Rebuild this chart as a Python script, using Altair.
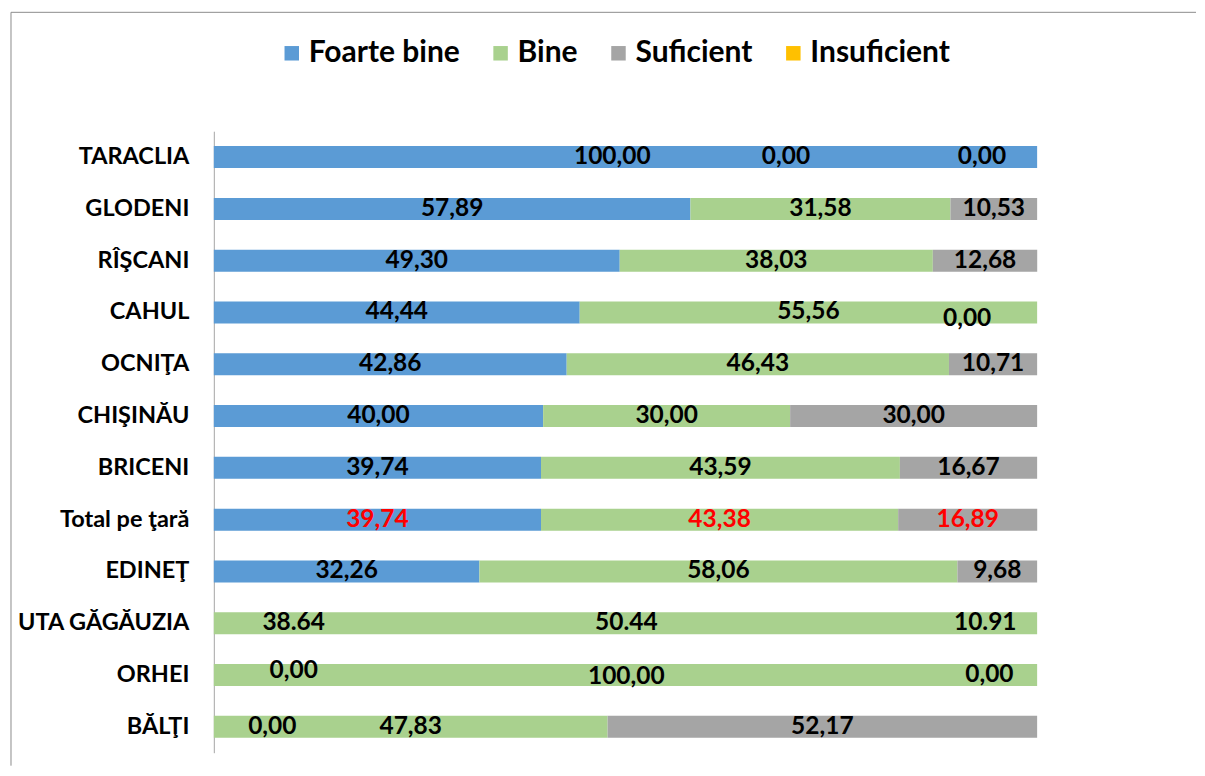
import altair as alt
import pandas as pd

categories = ["TARACLIA", "GLODENI", "RÎŞCANI", "CAHUL", "OCNIŢA", "CHIŞINĂU",
              "BRICENI", "Total pe ţară", "EDINEŢ", "UTA GĂGĂUZIA", "ORHEI", "BĂLŢI"]
series = ["Foarte bine", "Bine", "Suficient", "Insuficient"]
colors = ["#5B9BD5", "#A9D18E", "#A5A5A5", "#FFC000"]

# drawn segment values (percent)
foarte_bine = [100.00, 57.89, 49.30, 44.44, 42.86, 40.00, 39.74, 39.74, 32.26, 0.00, 0.00, 0.00]
bine = [0.00, 31.58, 38.03, 55.56, 46.43, 30.00, 43.59, 43.38, 58.06, 100.00, 100.00, 47.83]
suficient = [0.00, 10.53, 12.68, 0.00, 10.71, 30.00, 16.67, 16.89, 9.68, 0.00, 0.00, 52.17]
insuficient = [0.00, 0.00, 0.00, 0.00, 0.00, 0.00, 0.00, 0.00, 0.00, 0.00, 0.00, 0.00]

# data label texts as printed on the chart
label_fb = ["100,00", "57,89", "49,30", "44,44", "42,86", "40,00", "39,74", "39,74", "32,26", "38.64", "0,00", "0,00"]
label_bine = ["0,00", "31,58", "38,03", "55,56", "46,43", "30,00", "43,59", "43,38", "58,06", "50.44", "100,00", "47,83"]
label_suf = ["0,00", "10,53", "12,68", "0,00", "10,71", "30,00", "16,67", "16,89", "9,68", "10.91", "0,00", "52,17"]
red_rows = ["Total pe ţară"]

# labels that were moved away from the segment centre (position in percent)
label_pos_override = {
    ("TARACLIA", 0): 48.4, ("TARACLIA", 1): 69.5, ("TARACLIA", 2): 93.3,
    ("CAHUL", 2): 91.5,
    ("UTA GĂGĂUZIA", 0): 9.7, ("UTA GĂGĂUZIA", 1): 50.1, ("UTA GĂGĂUZIA", 2): 93.7,
    ("ORHEI", 0): 9.7, ("ORHEI", 1): 50.1, ("ORHEI", 2): 94.2,
    ("BĂLŢI", 0): 7.1,
}
label_dy = {("CAHUL", 2): 7, ("ORHEI", 0): -4, ("ORHEI", 1): 2}

value_lists = [foarte_bine, bine, suficient, insuficient]
label_lists = [label_fb, label_bine, label_suf]

bar_rows = []
lab_rows = []
for i, cat in enumerate(categories):
    cum = 0.0
    for s, name in enumerate(series):
        v = value_lists[s][i]
        bar_rows.append({"category": cat, "series": name, "value": v, "order": s})
        if s < 3:
            pos = label_pos_override.get((cat, s), cum + v / 2)
            lab_rows.append({
                "category": cat,
                "text": label_lists[s][i],
                "pos": pos,
                "dy": label_dy.get((cat, s), 0),
                "color": "#FF0000" if cat in red_rows else "#000000",
            })
        cum += v

bars_df = pd.DataFrame(bar_rows)
labels_df = pd.DataFrame(lab_rows)

FONT = "Lato"
xscale = alt.Scale(domain=[0, 100], nice=False, zero=True)
yscale = alt.Scale(paddingInner=0.5756, paddingOuter=0.2878)

bars = alt.Chart(bars_df).mark_bar().encode(
    x=alt.X("value:Q", stack="zero", scale=xscale, axis=None),
    y=alt.Y("category:N", sort=categories, scale=yscale,
            axis=alt.Axis(title=None, labelFont=FONT, labelFontSize=23.5, labelFontWeight="bold",
                          labelColor="#000000", ticks=False, domainColor="#A6A6A6",
                          labelPadding=25, labelLimit=400)),
    color=alt.Color("series:N", scale=alt.Scale(domain=series, range=colors),
                    legend=alt.Legend(orient="none", legendX=63, legendY=-93,
                                      direction="horizontal", title=None,
                                      symbolType="square", symbolSize=210,
                                      symbolStrokeWidth=0, labelFont=FONT,
                                      labelFontSize=30, labelFontWeight="bold",
                                      labelColor="#000000", columnPadding=25,
                                      labelOffset=2)),
    order=alt.Order("order:Q"),
)


def label_layer(dy):
    return alt.Chart(labels_df).transform_filter(
        alt.datum.dy == dy
    ).mark_text(
        font=FONT, fontSize=24.5, fontWeight="bold", align="center",
        baseline="middle", dy=dy
    ).encode(
        x=alt.X("pos:Q", scale=xscale, axis=None),
        y=alt.Y("category:N", sort=categories, scale=yscale),
        text="text:N",
        color=alt.Color("color:N", scale=None),
    )


label_layers = [label_layer(d) for d in sorted(set(labels_df["dy"]))]

frame_data = alt.Data(values=[{"k": 1}])
frame_top = alt.Chart(frame_data).mark_rule(color="#8C8C8C", strokeWidth=1).encode(
    x=alt.value(-203), x2=alt.value(983), y=alt.value(-119)
)
frame_left = alt.Chart(frame_data).mark_rule(color="#8C8C8C", strokeWidth=1).encode(
    x=alt.value(-203), y=alt.value(-119), y2=alt.value(635)
)

chart = alt.layer(frame_top, frame_left, bars, *label_layers).properties(
    width=824, height=622,
    padding={"left": 2, "top": 3, "right": 0, "bottom": 0},
).configure_view(stroke=None)

chart.save("out.html", embed_options={"renderer": "svg", "actions": False})
